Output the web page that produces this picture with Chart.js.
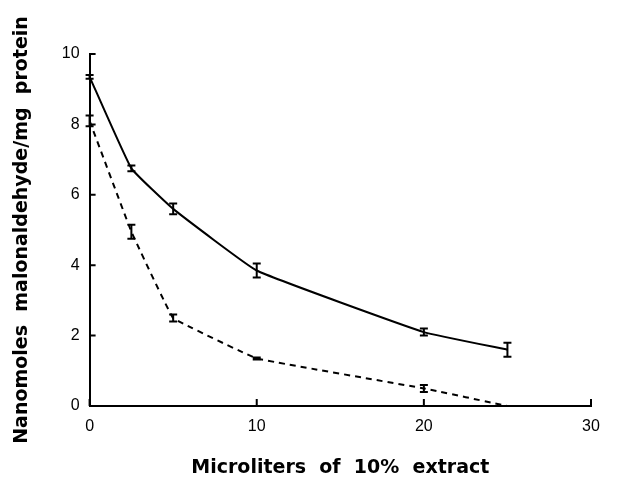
<!DOCTYPE html>
<html>
<head>
<meta charset="utf-8">
<script src="https://cdn.jsdelivr.net/npm/chart.js@4/dist/chart.umd.min.js"></script>
<style>
  html, body { margin: 0; padding: 0; background: #fff; }
  #wrap { width: 641px; height: 479px; }
</style>
</head>
<body>
<div id="wrap"><canvas id="myChart" width="641" height="479"></canvas></div>
<script>
let xValues = [0, 2.5, 5, 10, 20, 25];
let solidValues = [9.35, 6.75, 5.6, 3.85, 2.1, 1.6];
let solidErrors = [0.05, 0.08, 0.15, 0.2, 0.1, 0.2];
let dashedValues = [8.1, 4.95, 2.5, 1.35, 0.5, 0.0];
let dashedErrors = [0.15, 0.2, 0.1, 0.03, 0.1, 0];
let xTicks = [0, 10, 20, 30];
let yTicks = [0, 2, 4, 6, 8, 10];

let toPoints = (vals) => xValues.map((x, i) => ({ x: x, y: vals[i] }));

// error bars + inward tick marks, drawn via the chart scales
let extras = {
    id: 'extras',
    afterDatasetsDraw(chart) {
        let c = chart.ctx;
        let xs = chart.scales.x, ys = chart.scales.y;
        c.save();
        c.strokeStyle = '#000';
        c.lineWidth = 2;
        [solidErrors, dashedErrors].forEach((errs, d) => {
            let vals = d === 0 ? solidValues : dashedValues;
            errs.forEach((e, i) => {
                if (!e) return;
                let px = xs.getPixelForValue(xValues[i]);
                let top = ys.getPixelForValue(vals[i] + e);
                let bot = ys.getPixelForValue(vals[i] - e);
                c.beginPath();
                c.moveTo(px, top); c.lineTo(px, bot);
                c.moveTo(px - 4, top); c.lineTo(px + 4, top);
                c.moveTo(px - 4, bot); c.lineTo(px + 4, bot);
                c.stroke();
            });
        });
        let left = xs.left, bottom = ys.bottom;
        c.beginPath();
        yTicks.forEach(v => {
            let py = ys.getPixelForValue(v);
            c.moveTo(left, py); c.lineTo(left + 6, py);
        });
        xTicks.forEach(v => {
            let px = xs.getPixelForValue(v);
            c.moveTo(px, bottom); c.lineTo(px, bottom - 7);
        });
        c.stroke();
        c.restore();
    }
};

let ctx = document.getElementById('myChart');

let myChart = new Chart(ctx, {
    type: 'scatter',
    data: {
        datasets: [{
            data: toPoints(solidValues),
            showLine: true,
            borderColor: '#000',
            borderWidth: 2,
            pointRadius: 0,
            tension: 0.1
        }, {
            data: toPoints(dashedValues),
            showLine: true,
            borderColor: '#000',
            borderWidth: 2,
            borderDash: [6, 5],
            pointRadius: 0,
            tension: 0.05
        }]
    },
    options: {
        responsive: false,
        animation: false,
        layout: { padding: { top: 54, right: 50, left: 7, bottom: 0 } },
        plugins: {
            legend: { display: false },
            tooltip: { enabled: false }
        },
        scales: {
            x: {
                type: 'linear',
                min: 0,
                max: 30,
                afterBuildTicks: (axis) => { axis.ticks = xTicks.map(v => ({ value: v })); },
                grid: { display: false, drawTicks: false },
                border: { color: '#000', width: 2 },
                ticks: { color: '#000', padding: 11, font: { family: 'Liberation Sans', size: 16 } },
                title: {
                    display: true,
                    text: 'Microliters  of  10%  extract',
                    color: '#000',
                    padding: { top: 9, bottom: 0 },
                    font: { family: 'DejaVu Sans', size: 19, weight: 'bold' }
                }
            },
            y: {
                min: 0,
                max: 10,
                afterBuildTicks: (axis) => { axis.ticks = yTicks.map(v => ({ value: v })); },
                grid: { display: false, drawTicks: false },
                border: { color: '#000', width: 2 },
                ticks: { color: '#000', padding: 10, font: { family: 'Liberation Sans', size: 16 } },
                title: {
                    display: true,
                    text: 'Nanomoles  malonaldehyde/mg  protein',
                    color: '#000',
                    padding: { bottom: 18 },
                    font: { family: 'DejaVu Sans', size: 19, weight: 'bold' }
                }
            }
        }
    },
    plugins: [extras]
});
</script>
</body>
</html>
